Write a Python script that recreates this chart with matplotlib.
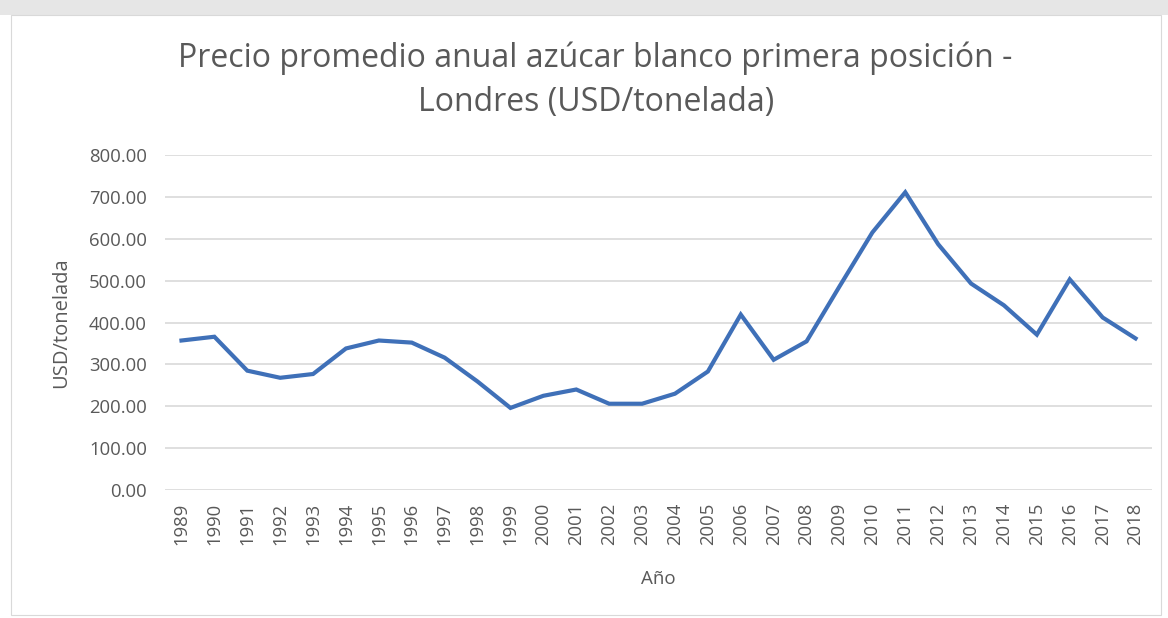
import matplotlib.pyplot as plt
from matplotlib.patches import Rectangle

years = [str(y) for y in range(1989, 2019)]
precio = [357, 366, 285, 268, 277, 338, 357, 352, 316, 259,
          196, 225, 240, 206, 206, 230, 283, 419, 311, 355,
          486, 615, 711, 587, 493, 441, 371, 503, 412, 362]

plt.rcParams['font.family'] = ['Open Sans', 'DejaVu Sans']

fig = plt.figure(figsize=(11.68, 6.18), dpi=100)
fig.patch.set_facecolor('white')

# grey strip of the scanned page above the chart box
fig.add_artist(Rectangle((0, 0.975), 1, 0.025, transform=fig.transFigure,
                         facecolor='#e6e6e6', edgecolor='none'))
fig.add_artist(Rectangle((0.009, 0.005), 0.985, 0.97, transform=fig.transFigure,
                         facecolor='none', edgecolor='#d9d9d9', lw=0.8))

ax = fig.add_axes([0.1413, 0.2071, 0.845, 0.5421])
x = range(len(years))
ax.plot(x, precio, color='#3f70b8', lw=3, solid_joinstyle='miter')

ax.set_xlim(-0.5, len(years) - 0.5)
ax.set_ylim(0, 800)
ax.set_yticks(range(0, 801, 100))
ax.set_yticklabels([f'{v:.2f}' for v in range(0, 801, 100)])
ax.set_xticks(list(x))
ax.set_xticklabels(years, rotation=90)
ax.tick_params(axis='both', length=0, labelsize=13.3, colors='#595959')
ax.tick_params(axis='y', pad=13)
ax.tick_params(axis='x', pad=9)
ax.grid(axis='y', color='#d9d9d9', lw=1.2)
ax.set_axisbelow(True)
for s in ax.spines.values():
    s.set_visible(False)

ax.set_ylabel('USD/tonelada', fontsize=14.5, color='#595959', labelpad=13)
ax.set_xlabel('Año', fontsize=13.5, color='#595959', labelpad=18)

fig.text(0.51, 0.870, 'Precio promedio anual azúcar blanco primera posición -\nLondres (USD/tonelada)',
         ha='center', va='center', fontsize=23, color='#595959', linespacing=1.42)

fig.savefig('out.png', dpi=100)
